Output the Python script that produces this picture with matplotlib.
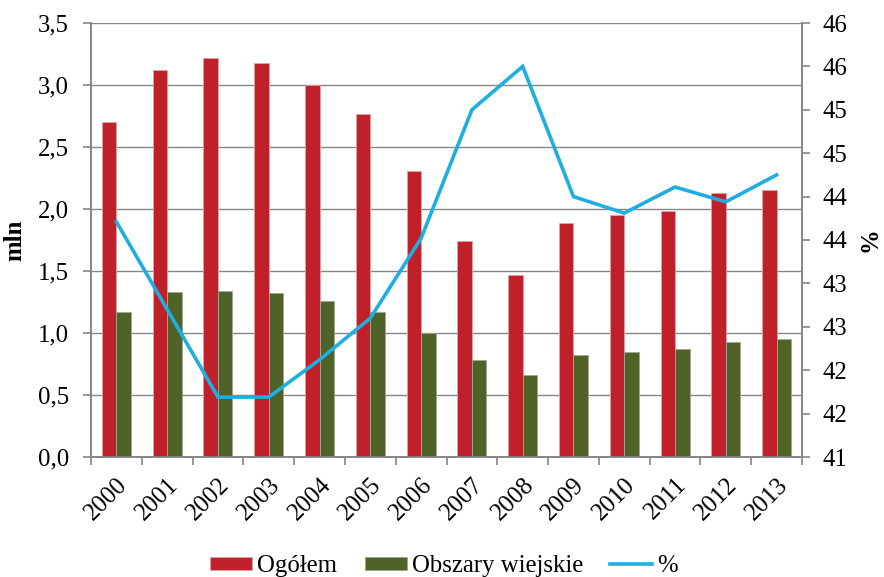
import matplotlib
matplotlib.use("Agg")
import matplotlib.pyplot as plt
import numpy as np
from matplotlib.ticker import FuncFormatter, MultipleLocator, FixedLocator

# dane
lata = ["2000", "2001", "2002", "2003", "2004", "2005", "2006",
        "2007", "2008", "2009", "2010", "2011", "2012", "2013"]
ogolem = [2.70, 3.12, 3.22, 3.18, 3.00, 2.77, 2.31,
          1.74, 1.47, 1.89, 1.95, 1.98, 2.13, 2.15]
wiejskie = [1.17, 1.33, 1.34, 1.32, 1.26, 1.17, 1.00,
            0.78, 0.66, 0.82, 0.85, 0.87, 0.93, 0.95]
procent = [43.71, 42.70, 41.69, 41.69, 42.12, 42.60, 43.52,
           45.00, 45.50, 44.00, 43.81, 44.11, 43.94, 44.25]

plt.rcParams['font.family'] = ['Liberation Serif', 'DejaVu Serif']
FS = 17.8
SZARY = '#868686'

fig = plt.figure(figsize=(8.84, 5.77), dpi=100)
ax = fig.add_axes([91 / 884, 1 - 457 / 577, (802 - 91) / 884, (457 - 23) / 577])
ax2 = ax.twinx()

x = np.arange(len(lata))
w = 0.2857
b1 = ax.bar(x - w / 2, ogolem, w, color='#C0202A', edgecolor='#E8A0A4',
            linewidth=0.6, label='Ogółem', zorder=3)
b2 = ax.bar(x + w / 2, wiejskie, w, color='#4F6228', edgecolor='#A0A890',
            linewidth=0.6, label='Obszary wiejskie', zorder=3)
l1, = ax2.plot(x, procent, color='#1FAEE0', linewidth=2.6,
               solid_joinstyle='miter', label='%', zorder=4)

# oś lewa
ax.set_ylim(0, 3.5)
ax.yaxis.set_major_locator(MultipleLocator(0.5))
ax.yaxis.set_major_formatter(FuncFormatter(lambda v, p: f"{v:.1f}".replace('.', ',')))
ax.grid(axis='y', color=SZARY, linewidth=1.0, zorder=0)
ax.set_axisbelow(True)
ax.set_ylabel('mln', fontsize=FS, fontweight='bold', labelpad=8)

# oś prawa
ax2.set_ylim(41, 46)
ax2.yaxis.set_major_locator(MultipleLocator(0.5))
ax2.yaxis.set_major_formatter(FuncFormatter(lambda v, p: f"{int(np.floor(v + 0.5))}"))
ax2.set_ylabel('%', fontsize=FS, fontweight='bold', labelpad=8)

# oś x
ax.set_xlim(-0.5, len(lata) - 0.5)
ax.set_xticks(x)
ax.set_xticklabels(lata, rotation=45, ha='right', rotation_mode='anchor', fontsize=FS)
ax.xaxis.set_minor_locator(FixedLocator(np.arange(-0.5, len(lata), 1.0)))
ax.tick_params(axis='x', which='major', length=0, pad=12)
ax.tick_params(axis='x', which='minor', length=6, width=1.2, color=SZARY)
ax.tick_params(axis='y', length=6, width=1.2, color=SZARY, labelsize=FS, pad=10)
ax2.tick_params(axis='y', length=6, width=1.2, color=SZARY, labelsize=FS, pad=9)

for a in (ax, ax2):
    a.spines['top'].set_visible(False)
    for s in ('left', 'right', 'bottom'):
        a.spines[s].set_color(SZARY)
        a.spines[s].set_linewidth(1.2)

fig.legend([b1, b2, l1], ['Ogółem', 'Obszary wiejskie', '%'],
           loc='center', bbox_to_anchor=(444 / 884, 1 - 566 / 577), ncol=3,
           frameon=False, fontsize=FS, handlelength=1.7, handleheight=0.45,
           handletextpad=0.2, columnspacing=1.1)

fig.savefig('out.png', dpi=100)
